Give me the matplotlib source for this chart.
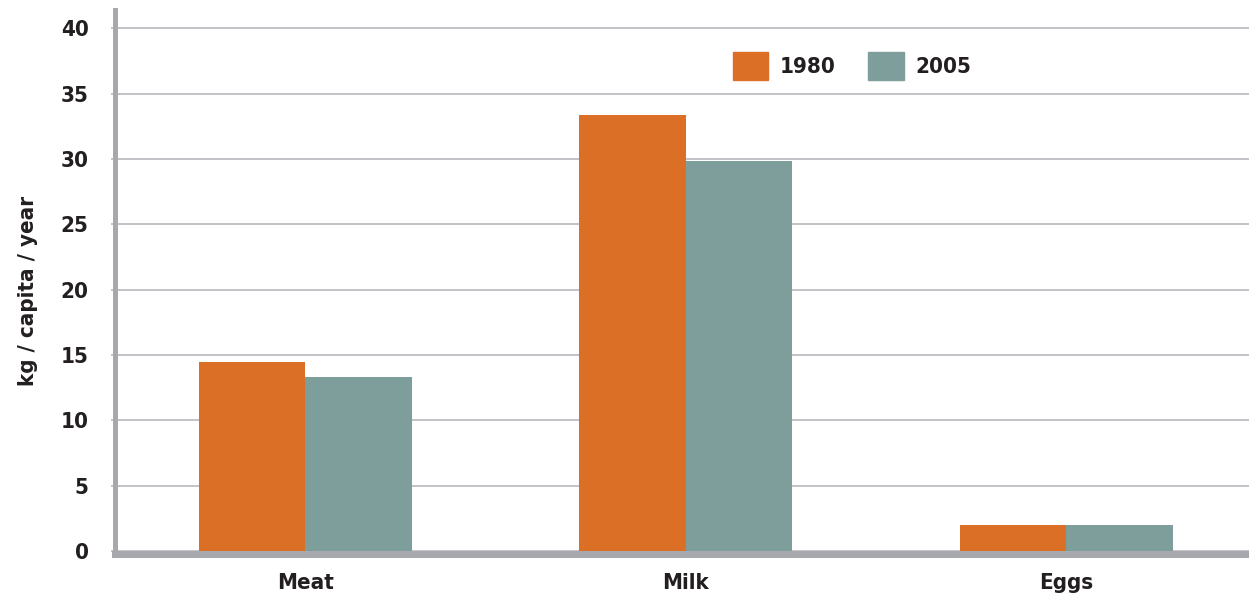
import matplotlib.pyplot as plt
import numpy as np
from matplotlib.patches import Patch

categories = ["Meat", "Milk", "Eggs"]
years = ["1980", "2005"]
values_1980 = [14.5, 33.4, 2.0]
values_2005 = [13.3, 29.85, 2.0]
y_ticks = [0, 5, 10, 15, 20, 25, 30, 35, 40]

orange = "#DB6F25"
teal = "#7E9E9B"
spine_gray = "#A7A8AC"
grid_gray = "#BDBEC1"
text_col = "#231F20"

plt.rcParams["font.family"] = ["DejaVu Sans"]
plt.rcParams["font.stretch"] = "condensed"

fig = plt.figure(figsize=(12.49, 5.98), dpi=100)
ax = fig.add_axes([115 / 1249, 47 / 598, 1 - 115 / 1249, (551 - 10) / 598])

x = np.arange(len(categories))
width = 0.28

ax.bar(x - width / 2, values_1980, width, color=orange, zorder=3)
ax.bar(x + width / 2, values_2005, width, color=teal, zorder=3)

ax.set_xlim(-0.5, 2.48)
ax.set_ylim(0, 41.4)
ax.set_yticks(y_ticks)
ax.set_xticks(x)
ax.set_xticklabels(categories)

ax.yaxis.grid(True, color=grid_gray, linewidth=1.3, zorder=0)
ax.set_axisbelow(True)

for side in ["top", "right"]:
    ax.spines[side].set_visible(False)
ax.spines["left"].set_color(spine_gray)
ax.spines["left"].set_linewidth(3.6)
ax.spines["bottom"].set_color(spine_gray)
ax.spines["bottom"].set_linewidth(5)
ax.spines["bottom"].set_position(("outward", 2.5))

ax.tick_params(axis="y", length=3, width=1.3, color=grid_gray, pad=16,
               labelsize=16, labelcolor=text_col)
ax.tick_params(axis="x", length=0, pad=13, labelsize=16, labelcolor=text_col)
for lbl in ax.get_xticklabels() + ax.get_yticklabels():
    lbl.set_fontweight("bold")

ax.set_ylabel("kg / capita / year", fontsize=16, fontweight="bold", color=text_col)
ax.yaxis.set_label_coords(-0.068, 0.48)

handles = [Patch(color=orange), Patch(color=teal)]
leg = ax.legend(handles, years, loc="upper left", bbox_to_anchor=(0.527, 0.96),
                ncol=2, frameon=False, handlelength=1.6, handleheight=1.6,
                handletextpad=0.5, columnspacing=1.5,
                prop={"size": 16, "weight": "bold"})
for t in leg.get_texts():
    t.set_color(text_col)

fig.savefig("out.png", dpi=100)
